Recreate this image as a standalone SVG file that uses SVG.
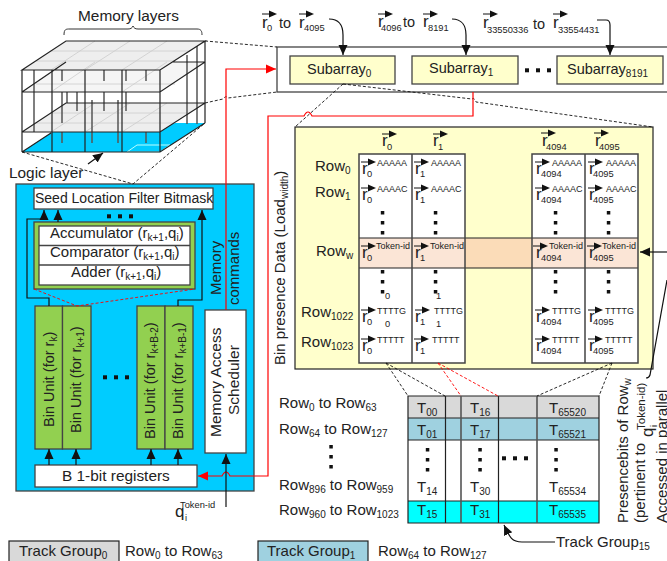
<svg xmlns="http://www.w3.org/2000/svg" width="667" height="561" viewBox="0 0 667 561">
<style>
text{font-family:"Liberation Sans",Arial,sans-serif;fill:#222}
.f{font-size:15px}.b{font-size:14.500px}.u{font-size:17px}.c{font-size:9px}.n{font-size:10px}.t{font-size:9.300px}
.box{stroke:#444;stroke-width:1.3}
.k{fill:none;stroke:#111;stroke-width:1.2}
.r{fill:none;stroke:#f00;stroke-width:1.2}
.d{fill:none;stroke:#111;stroke-width:.9;stroke-dasharray:3 2}
.rd{fill:none;stroke:#f00;stroke-width:.9;stroke-dasharray:3 2}
.l{fill:none;stroke:#222;stroke-width:1.2}
.g{fill:none;stroke:#555;stroke-width:1.5}
.h{fill:none;stroke:#ccc;stroke-width:.8}
</style>
<defs>
<marker id="a" markerUnits="userSpaceOnUse" markerWidth="11" markerHeight="11" refX="10" refY="5.500" orient="auto"><path d="M0 1L10 5.500L0 10z" fill="#111"/></marker>
<marker id="ar" markerUnits="userSpaceOnUse" markerWidth="11" markerHeight="11" refX="10" refY="5.500" orient="auto"><path d="M0 1L10 5.500L0 10z" fill="#f00"/></marker>
<g id="v"><path d="M0 0H8" stroke="#111" stroke-width="1"/><path d="M7 -3.500L15 0L7 3.500z" fill="#111"/></g>
<g id="dv"><rect x="-1.700" y="0" width="3.500" height="3.500" fill="#111"/><rect x="-1.700" y="10" width="3.500" height="3.500" fill="#111"/><rect x="-1.700" y="20" width="3.500" height="3.500" fill="#111"/></g>
<g id="dh"><rect x="0" y="-1.700" width="4" height="4" fill="#111"/><rect x="11" y="-1.700" width="4" height="4" fill="#111"/><rect x="22" y="-1.700" width="4" height="4" fill="#111"/></g>
</defs>

<g id="memory-stack">
<path d="M22 152L66 123H205L160 152z" fill="#00ccff"/>
<path d="M127 152L137 145H170L160 152z" fill="none" stroke="#bff" stroke-width="1"/>
<path d="M22 132L66 103H205L160 132z" fill="#eee"/>
<path d="M22 92L66 62H205L160 92z" fill="#eee" opacity=".6"/>
<path d="M22 70L66 41H205L160 70z" fill="#eee"/>
<path class="h" d="M36 61H175M50 51H190M51 70L95 41M85 70L130 41M122 70L167 41"/>
<path class="h" d="M36 84H175M51 92L95 62M122 92L167 62"/>
<path class="h" d="M36 123H175M50 113H190M51 132L95 103M85 132L130 103M122 132L167 103"/>
<path class="g" d="M34 70V132M62 70V81M62 92V123M62 132V143M104 70V81M104 92V111M126 70V81M126 92V111M146 70V81M146 132V143M77 92V111M92 100V143M118 100V143M67 92V103M187 55V124M197 46V124"/>
<path class="l" d="M52 70V152M85 70V152M122 70V152"/>
<path class="l" d="M22 70V152M160 70V152M205 41V123M22 70L66 41H205L160 70zM22 92H160L205 62M22 92L66 62M172 62H205M22 132H160L205 103M22 132L66 103H205M22 152H160L205 123M22 152L51 133"/>
<path d="M64 35C64 29 66 29 70 29H128C131 29 132 28 133 26C134 28 135 29 138 29H197C201 29 202 31 202 35" fill="none" stroke="#333" stroke-width="1"/>
<text x="78" y="21" style="font-size:15.400px">Memory layers</text>
<path class="k" d="M88 164L103 153" marker-end="url(#a)"/>
<text x="9" y="178" style="font-size:15.400px">Logic layer</text>
</g>

<g id="logic-die">
<rect class="box" x="16" y="184" width="238" height="307" fill="#00ccff"/>
<rect class="box" x="34" y="188" width="179" height="21" fill="#fff"/>
<text x="35" y="203" style="font-size:14px">Seed Location Filter Bitmask</text>
<use href="#dh" x="107" y="216"/>
</g>
<g id="bin-core">
<rect class="box" x="34" y="222" width="161" height="67" fill="#92d050"/>
<rect class="box" x="39" y="226" width="151" height="59" fill="#fff"/>
<path class="box" d="M39 245.500H190M39 265H190" fill="none"/>
<text x="50" y="238" class="f">Accumulator (r<tspan dy="3" class="n">k+1</tspan><tspan dy="-3">,q</tspan><tspan dy="3" class="n">i</tspan><tspan dy="-3">)</tspan></text>
<text x="50" y="257" class="f">Comparator (r<tspan dy="3" class="n">k+1</tspan><tspan dy="-3">,q</tspan><tspan dy="3" class="n">i</tspan><tspan dy="-3">)</tspan></text>
<text x="71" y="277" class="f">Adder (r<tspan dy="3" class="n">k+1</tspan><tspan dy="-3">,q</tspan><tspan dy="3" class="n">i</tspan><tspan dy="-3">)</tspan></text>
</g>
<g id="bin-units">
<rect class="box" x="35" y="306" width="27.500" height="143" fill="#92d050"/>
<rect class="box" x="62.500" y="306" width="28.500" height="143" fill="#92d050"/>
<rect class="box" x="137" y="306" width="28" height="143" fill="#92d050"/>
<rect class="box" x="165" y="306" width="28" height="143" fill="#92d050"/>
<text transform="translate(54 427) rotate(-90)" class="b">Bin Unit (for r<tspan dy="3" class="n">k</tspan><tspan dy="-3">)</tspan></text>
<text transform="translate(81 433) rotate(-90)" class="b">Bin Unit (for r<tspan dy="3" class="n">k+1</tspan><tspan dy="-3">)</tspan></text>
<text transform="translate(155 439) rotate(-90)" class="b">Bin Unit (for r<tspan dy="3" class="n">k+B-2</tspan><tspan dy="-3">)</tspan></text>
<text transform="translate(183 439) rotate(-90)" class="b">Bin Unit (for r<tspan dy="3" class="n">k+B-1</tspan><tspan dy="-3">)</tspan></text>
<use href="#dh" x="103" y="377"/>
</g>
<g id="scheduler">
<rect class="box" x="205" y="310" width="41" height="143" fill="#fff"/>
<text transform="translate(221 437) rotate(-90)" style="font-size:15.500px">Memory Access</text>
<text transform="translate(239 415) rotate(-90)" style="font-size:15.500px">Scheduler</text>
<text transform="translate(221 295) rotate(-90)" class="f">Memory</text>
<text transform="translate(239 305) rotate(-90)" class="f">commands</text>
</g>
<g id="registers">
<rect class="box" x="35" y="465" width="162" height="22" fill="#fff"/>
<text x="62" y="481" style="font-size:15.400px">B 1-bit registers</text>
</g>
<g id="token-input">
<text x="175" y="517" style="font-size:17px">q</text>
<text x="180" y="508" class="t">Token-id</text>
<text x="185" y="521" class="t">i</text>
</g>

<g id="subarrays">
<rect class="box" x="277" y="47" width="395" height="45" fill="#fff"/>
<rect class="box" x="290" y="56" width="105" height="28" fill="#ffffcc"/>
<rect class="box" x="412" y="56" width="106" height="28" fill="#ffffcc"/>
<rect class="box" x="557" y="56" width="106" height="28" fill="#ffffcc"/>
<text x="307" y="74" class="b">Subarray<tspan dy="3" class="n">0</tspan></text>
<text x="429" y="73" class="b">Subarray<tspan dy="3" class="n">1</tspan></text>
<text x="567" y="74" class="b">Subarray<tspan dy="3" class="n">8191</tspan></text>
<use href="#dh" x="525" y="70"/>
</g>
<g id="read-labels">
<use href="#v" x="262" y="14"/><text x="262" y="28" class="u">r</text><text x="267" y="31" class="t">0</text><text x="279" y="28" class="b">to</text>
<use href="#v" x="299" y="14"/><text x="299" y="28" class="u">r</text><text x="304" y="31" class="t">4095</text>
<use href="#v" x="378" y="14"/><text x="378" y="27" class="u">r</text><text x="381" y="31" class="t">4096</text><text x="403" y="27" class="b">to</text>
<use href="#v" x="423" y="14"/><text x="423" y="27" class="u">r</text><text x="428" y="31" class="t">8191</text>
<use href="#v" x="483" y="14"/><text x="483" y="28" class="u">r</text><text x="487" y="33" class="t">33550336</text><text x="533" y="29" class="b">to</text>
<use href="#v" x="553" y="14"/><text x="553" y="28" class="u">r</text><text x="558" y="33" class="t">33554431</text>
</g>

<g id="bin-panel">
<rect x="295" y="127" width="358" height="242" fill="#ffffcc" stroke="#222" stroke-width="1.200"/>
<rect x="359" y="238" width="279" height="30" fill="#fbdcb8"/>
<rect x="359" y="154" width="106" height="209" fill="#fff"/>
<rect x="532" y="154" width="106" height="209" fill="#fff"/>
<rect x="359" y="238" width="106" height="30" fill="#fbe5d6"/>
<rect x="532" y="238" width="106" height="30" fill="#fbe5d6"/>
<path d="M359 238H638M359 268H638" stroke="#222" stroke-width="1.100" fill="none"/>
<path class="box" fill="none" d="M359 154H465V363H359zM412 154V363M532 154H638V363H532zM585 154V363" style="stroke-width:1.500"/>
<text transform="translate(285 365) rotate(-90)" class="f">Bin presence Data (Load<tspan dy="3" class="n">width</tspan><tspan dy="-3">)</tspan></text>
<text x="315" y="171" class="f">Row<tspan dy="3" class="n">0</tspan></text>
<text x="315" y="197" class="f">Row<tspan dy="3" class="n">1</tspan></text>
<text x="316" y="256" class="f">Row<tspan dy="3" class="n">w</tspan></text>
<text x="301" y="317" class="f">Row<tspan dy="3" class="n">1022</tspan></text>
<text x="301" y="347" class="f">Row<tspan dy="3" class="n">1023</tspan></text>
<use href="#v" x="382" y="134"/><text x="382" y="146" class="u">r</text><text x="387" y="150" class="t">0</text>
<use href="#v" x="433" y="134"/><text x="433" y="146" class="u">r</text><text x="438" y="150" class="t">1</text>
<use href="#v" x="541" y="133"/><text x="542" y="146" class="u">r</text><text x="546" y="150" class="t">4094</text>
<use href="#v" x="594" y="133"/><text x="595" y="146" class="u">r</text><text x="599" y="150" class="t">4095</text>
</g>
<g id="bin-cells">
<use href="#v" x="361" y="162"/><text x="362" y="174" class="u">r</text><text x="367" y="177" class="t">0</text><text x="377" y="166" class="c">AAAAA</text>
<use href="#v" x="414" y="162"/><text x="415" y="174" class="u">r</text><text x="420" y="177" class="t">1</text><text x="431" y="166" class="c">AAAAA</text>
<use href="#v" x="535" y="162"/><text x="536" y="174" class="u">r</text><text x="541" y="177" class="t">4094</text><text x="552" y="166" class="c">AAAAA</text>
<use href="#v" x="588" y="162"/><text x="589" y="174" class="u">r</text><text x="593" y="177" class="t">4095</text><text x="606" y="166" class="c">AAAAA</text>
<use href="#v" x="361" y="188"/><text x="362" y="200" class="u">r</text><text x="367" y="203" class="t">0</text><text x="377" y="192" class="c">AAAAC</text>
<use href="#v" x="414" y="188"/><text x="415" y="200" class="u">r</text><text x="420" y="203" class="t">1</text><text x="431" y="192" class="c">AAAAC</text>
<use href="#v" x="535" y="188"/><text x="536" y="200" class="u">r</text><text x="541" y="203" class="t">4094</text><text x="552" y="192" class="c">AAAAC</text>
<use href="#v" x="588" y="188"/><text x="589" y="200" class="u">r</text><text x="593" y="203" class="t">4095</text><text x="606" y="192" class="c">AAAAC</text>
<use href="#v" x="361" y="246"/><text x="362" y="258" class="u">r</text><text x="367" y="261" class="t">0</text><text x="376" y="249" class="c">Token-id</text>
<use href="#v" x="414" y="246"/><text x="415" y="258" class="u">r</text><text x="420" y="261" class="t">1</text><text x="430" y="249" class="c">Token-id</text>
<use href="#v" x="533" y="246"/><text x="536" y="258" class="u">r</text><text x="541" y="261" class="t">4094</text><text x="549" y="249" class="c">Token-id</text>
<use href="#v" x="587" y="246"/><text x="589" y="258" class="u">r</text><text x="593" y="261" class="t">4095</text><text x="602" y="249" class="c">Token-id</text>
<use href="#v" x="361" y="310"/><text x="362" y="322" class="u">r</text><text x="367" y="325" class="t">0</text><text x="377" y="314" class="c">TTTTG</text><text x="385" y="327" class="t">0</text>
<use href="#v" x="415" y="310"/><text x="415" y="322" class="u">r</text><text x="420" y="325" class="t">1</text><text x="434" y="314" class="c">TTTTG</text><text x="436" y="327" class="t">1</text>
<use href="#v" x="535" y="310"/><text x="536" y="322" class="u">r</text><text x="541" y="325" class="t">4094</text><text x="552" y="314" class="c">TTTTG</text>
<use href="#v" x="588" y="310"/><text x="589" y="322" class="u">r</text><text x="593" y="325" class="t">4095</text><text x="605" y="314" class="c">TTTTG</text>
<use href="#v" x="361" y="339"/><text x="362" y="351" class="u">r</text><text x="367" y="354" class="t">0</text><text x="377" y="343" class="c">TTTTT</text>
<use href="#v" x="414" y="339"/><text x="415" y="351" class="u">r</text><text x="420" y="354" class="t">1</text><text x="432" y="343" class="c">TTTTT</text>
<use href="#v" x="535" y="339"/><text x="536" y="351" class="u">r</text><text x="541" y="354" class="t">4094</text><text x="552" y="343" class="c">TTTTT</text>
<use href="#v" x="588" y="339"/><text x="589" y="351" class="u">r</text><text x="593" y="354" class="t">4095</text><text x="605" y="343" class="c">TTTTT</text>
<use href="#dv" x="382.500" y="211"/><use href="#dv" x="435.500" y="211"/><use href="#dv" x="555.500" y="211"/><use href="#dv" x="608.500" y="211"/>
<use href="#dv" x="382.500" y="270"/><use href="#dv" x="435.500" y="270"/><use href="#dv" x="555.500" y="270"/><use href="#dv" x="608.500" y="270"/>
<text x="385" y="299" class="t">0</text><text x="436" y="299" class="t">1</text>
</g>

<g id="track-table">
<rect x="408" y="396" width="191" height="22" fill="#d9d9d9"/>
<rect x="408" y="418" width="191" height="22" fill="#9fd1e0"/>
<rect x="408" y="440" width="191" height="61" fill="#fff"/>
<rect x="408" y="501" width="191" height="22" fill="#00ffff"/>
<path d="M408 396H599V523H408zM408 418H599M408 440H599M408 501H599M445.500 396V523M498.500 396V523" fill="none" stroke="#222" stroke-width="1.200"/>
<path d="M461 396V523M537 396V523" fill="none" stroke="#555" stroke-width="1.600"/>
<text x="417" y="413" class="f">T<tspan dy="3" class="n">00</tspan></text><text x="470" y="413" class="f">T<tspan dy="3" class="n">16</tspan></text><text x="549" y="413" class="f">T<tspan dy="3" class="n">65520</tspan></text>
<text x="417" y="435" class="f">T<tspan dy="3" class="n">01</tspan></text><text x="470" y="435" class="f">T<tspan dy="3" class="n">17</tspan></text><text x="549" y="435" class="f">T<tspan dy="3" class="n">65521</tspan></text>
<text x="417" y="492" class="f">T<tspan dy="3" class="n">14</tspan></text><text x="470" y="492" class="f">T<tspan dy="3" class="n">30</tspan></text><text x="549" y="492" class="f">T<tspan dy="3" class="n">65534</tspan></text>
<text x="417" y="515" class="f">T<tspan dy="3" class="n">15</tspan></text><text x="470" y="515" class="f">T<tspan dy="3" class="n">31</tspan></text><text x="549" y="515" class="f">T<tspan dy="3" class="n">65535</tspan></text>
<use href="#dv" x="427.500" y="448"/><use href="#dv" x="480" y="448"/><use href="#dv" x="556" y="448"/>
<use href="#dh" x="502" y="458"/>
<text x="279" y="408" class="f">Row<tspan dy="3" class="n">0</tspan><tspan dy="-3"> to Row</tspan><tspan dy="3" class="n">63</tspan></text>
<text x="279" y="434" class="f">Row<tspan dy="3" class="n">64</tspan><tspan dy="-3"> to Row</tspan><tspan dy="3" class="n">127</tspan></text>
<use href="#dv" x="331" y="445"/>
<text x="279" y="490" class="f">Row<tspan dy="3" class="n">896</tspan><tspan dy="-3"> to Row</tspan><tspan dy="3" class="n">959</tspan></text>
<text x="279" y="515" class="f">Row<tspan dy="3" class="n">960</tspan><tspan dy="-3"> to Row</tspan><tspan dy="3" class="n">1023</tspan></text>
<text x="556" y="547" class="f">Track Group<tspan dy="3" class="n">15</tspan></text>
</g>
<g id="legend-0">
<rect x="9" y="541" width="110" height="24" fill="#d9d9d9" stroke="#222" stroke-width="1.200"/>
<text x="19" y="556" class="f">Track Group<tspan dy="3" class="n">0</tspan></text>
<text x="125" y="556" class="f">Row<tspan dy="3" class="n">0</tspan><tspan dy="-3"> to Row</tspan><tspan dy="3" class="n">63</tspan></text>
</g>
<g id="legend-1">
<rect x="258" y="541" width="110" height="24" fill="#9fd1e0" stroke="#222" stroke-width="1.200"/>
<text x="267" y="556" class="f">Track Group<tspan dy="3" class="n">1</tspan></text>
<text x="378" y="556" class="f">Row<tspan dy="3" class="n">64</tspan><tspan dy="-3"> to Row</tspan><tspan dy="3" class="n">127</tspan></text>
</g>
<g id="side-notes">
<text transform="translate(628 523) rotate(-90)" class="f">Presencebits of Row<tspan dy="3" class="n">w</tspan></text>
<text transform="translate(645 523) rotate(-90)" class="f">(pertinent to</text>
<text transform="translate(653 437) rotate(-90)" class="u">q</text>
<text transform="translate(645 430) rotate(-90)" style="font-size:11.500px">Token-id)</text>
<text transform="translate(657 427) rotate(-90)" class="t">i</text>
<text transform="translate(667 523) rotate(-90)" class="f">Accessed in parallel</text>
</g>

<g id="connectors">
<path class="d" d="M205 41L277 47M205 103L223 99Q226 95 228 98L277 92M22 152L133 184L205 123"/>
<path class="d" d="M343 84L295 127M343 84L472 99Q474 97 476 102L653 127"/>
<path class="d" d="M386 363L408 396M386 363L445 396M612 363L537 396M612 363L599 396"/>
<path class="rd" d="M438 363L461 396M438 363L498 396"/>
<path class="rd" d="M34 289L77 306L195 289"/>
<path class="r" d="M226 310V69H276" marker-end="url(#ar)"/>
<path class="r" d="M473 92V116H312Q310 112 308 112Q306 112 304 116H268V476H230Q228 472 226 472Q224 472 222 476H198" marker-end="url(#ar)"/>
<path class="k" d="M226 507V454" marker-end="url(#a)"/>
<path class="k" d="M49 465V449" marker-end="url(#a)"/>
<path class="k" d="M76 465V449" marker-end="url(#a)"/>
<path class="k" d="M151 465V449" marker-end="url(#a)"/>
<path class="k" d="M178 465V449" marker-end="url(#a)"/>
<path class="k" d="M49 306V298H27V219H44V210" marker-end="url(#a)"/>
<path class="k" d="M58 222V210" marker-end="url(#a)"/>
<path class="k" d="M178 306V300H202V210" marker-end="url(#a)"/>
<path class="k" d="M329 19C340 19 343 26 343 35V55" marker-end="url(#a)"/>
<path class="k" d="M452 19C462 19 466 26 466 35V55" marker-end="url(#a)"/>
<path class="k" d="M597 20H606Q610 20 610 25V55" marker-end="url(#a)"/>
<path class="k" d="M667 252H640" marker-end="url(#a)"/>
<path class="k" d="M667 280L650 375Q649 378 646 378"/>
<path class="k" d="M555 542H522C512 542 510 538 504 525" marker-end="url(#a)"/>
</g>
</svg>
